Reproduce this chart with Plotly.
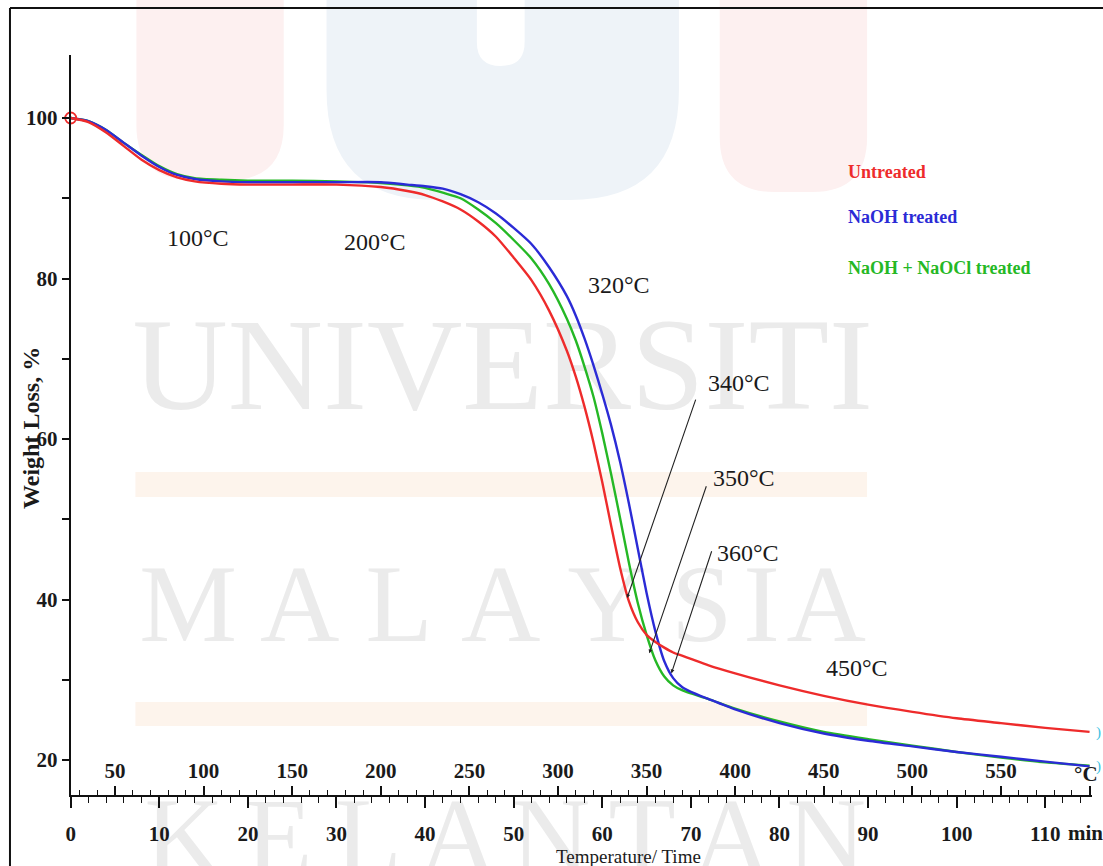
import plotly.graph_objects as go

# ---- TGA data: time (min) vs. residual weight (%) ----
time_min = [0, 2, 4, 6, 8, 10, 12, 14, 17, 20, 25, 30, 35, 38, 40, 42, 44, 46, 48, 50,
            52, 54, 56, 57, 58, 59, 60, 61, 62, 63, 64, 65, 66, 67, 68, 69, 70, 72, 75,
            80, 85, 90, 95, 100, 105, 110, 115]

untreated = [100, 99.5, 98.2, 96.5, 94.8, 93.5, 92.6, 92.1, 91.8, 91.7, 91.7, 91.7, 91.4,
             90.9, 90.4, 89.6, 88.6, 87.1, 85.2, 82.6, 79.8, 76.0, 71.0, 67.8, 64.0, 59.6,
             54.6, 49.2, 44.0, 39.8, 37.2, 35.6, 34.7, 34.0, 33.4, 33.0, 32.6, 31.8, 30.8,
             29.3, 28.0, 26.9, 26.0, 25.2, 24.6, 24.0, 23.5]

naoh = [100, 99.6, 98.5, 96.9, 95.3, 93.9, 92.9, 92.4, 92.1, 92.0, 92.0, 92.0, 92.0,
        91.7, 91.5, 91.2, 90.5, 89.5, 88.1, 86.3, 84.3, 81.4, 77.8, 75.4, 72.5, 69.2,
        65.6, 61.7, 57.2, 52.0, 46.4, 40.8, 36.0, 32.3, 30.2, 29.1, 28.5, 27.6, 26.3,
        24.6, 23.3, 22.4, 21.7, 21.0, 20.4, 19.8, 19.2]

naoh_naocl = [100, 99.6, 98.5, 96.9, 95.4, 94.0, 93.0, 92.5, 92.3, 92.2, 92.2, 92.1, 91.9,
              91.6, 91.3, 90.7, 90.0, 88.6, 86.9, 84.8, 82.5, 79.3, 75.0, 72.3, 69.0, 65.3,
              60.7, 55.6, 50.2, 44.6, 39.6, 35.6, 32.4, 30.4, 29.3, 28.7, 28.3, 27.6, 26.4,
              24.8, 23.5, 22.6, 21.8, 21.0, 20.3, 19.7, 19.3]

series_names = ["Untreated", "NaOH treated", "NaOH + NaOCl treated"]

# time axis labels and the matching temperature scale (T = 25 + 5 t)
time_ticks = [0, 10, 20, 30, 40, 50, 60, 70, 80, 90, 100, 110]
temp_ticks = [50, 100, 150, 200, 250, 300, 350, 400, 450, 500, 550]
weight_ticks = [20, 40, 60, 80, 100]

# stage temperatures marked on the curves: (label, t, w)
stage_labels = [("100°C", 14.4, 85.0), ("200°C", 34.4, 84.5), ("320°C", 61.9, 79.2),
                ("340°C", 75.4, 67.0), ("350°C", 76.0, 55.1), ("360°C", 76.5, 45.8),
                ("450°C", 88.7, 31.5)]
# leader lines: (t_from, w_from, t_to, w_to)
leaders = [(70.6, 65.1, 62.8, 40.2), (71.8, 54.3, 65.3, 33.3), (72.4, 46.2, 67.8, 30.8)]

W, H = 1103, 866
T_MAX = 115.3
Y_MIN, Y_MAX = 15.64, 107.85
X0_PX = 66
SERIF = "Liberation Serif"
RED, BLUE, GREEN = "#ee2b2b", "#2b2bd6", "#25b825"
INK = "#1a1a1a"


def px(x):
    return x / W


def py(y):
    return 1 - y / H


fig = go.Figure()

# ---- background lettering on a full-page pixel layer (drawn first, under the curves) ----
wm_color = "#ebebeb"
fig.add_trace(go.Scatter(x=[500], y=[376], mode="text", text=["UNIVERSITI"],
                         textfont=dict(family=SERIF, size=132, color=wm_color),
                         xaxis="x", yaxis="y", showlegend=False, hoverinfo="skip"))
fig.add_trace(go.Scatter(x=[184, 296, 396, 498, 605, 700, 760, 825], y=[613] * 8,
                         mode="text", text=list("MALAYSIA"),
                         textfont=dict(family=SERIF, size=110, color=wm_color),
                         xaxis="x", yaxis="y", showlegend=False, hoverinfo="skip"))
fig.add_trace(go.Scatter(x=[180, 275, 365, 455, 548, 640, 730, 825], y=[846] * 8,
                         mode="text", text=list("KELANTAN"),
                         textfont=dict(family=SERIF, size=110, color=wm_color),
                         xaxis="x", yaxis="y", showlegend=False, hoverinfo="skip"))

# ---- curves ----
for name, vals, col in [(series_names[2], naoh_naocl, GREEN),
                        (series_names[1], naoh, BLUE),
                        (series_names[0], untreated, RED)]:
    fig.add_trace(go.Scatter(x=time_min, y=vals, mode="lines", name=name,
                             xaxis="x2", yaxis="y2",
                             line=dict(color=col, width=2.4, shape="spline", smoothing=0.6),
                             showlegend=False, hoverinfo="skip"))

# start point marker
fig.add_trace(go.Scatter(x=[time_min[0]], y=[untreated[0]], mode="markers",
                         xaxis="x2", yaxis="y2",
                         marker=dict(symbol="circle-open", size=11, color=RED,
                                     line=dict(width=1.8, color=RED)),
                         cliponaxis=False, showlegend=False, hoverinfo="skip"))

# temperature scale shares the time axis
fig.add_trace(go.Scatter(x=[temp_ticks[0], temp_ticks[-1]], y=[None, None],
                         xaxis="x3", yaxis="y2", mode="lines",
                         showlegend=False, hoverinfo="skip"))

tick_font = dict(family=SERIF, size=21, color=INK, weight="bold")
hidden = dict(visible=False, showgrid=False, zeroline=False, fixedrange=True)

fig.update_layout(
    width=W, height=H,
    margin=dict(l=0, r=0, t=0, b=0),
    paper_bgcolor="white", plot_bgcolor="rgba(0,0,0,0)",
    showlegend=False,
    xaxis=dict(domain=[0, 1], range=[0, W], **hidden),
    yaxis=dict(domain=[0, 1], range=[H, 0], **hidden),
    xaxis2=dict(domain=[px(X0_PX), px(X0_PX + 8.9 * T_MAX)], range=[0, T_MAX], anchor="y2",
                tickvals=time_ticks, ticktext=[str(v) for v in time_ticks],
                showline=True, linecolor="#111", linewidth=2,
                ticks="outside", ticklen=11, tickwidth=1.5, tickcolor="#111",
                minor=dict(dtick=2, tick0=0, ticks="outside", ticklen=6,
                           tickwidth=1.3, tickcolor="#111", showgrid=False),
                showgrid=False, zeroline=False, tickfont=tick_font,
                ticklabelstandoff=8),
    xaxis3=dict(overlaying="x2", anchor="free", position=py(795), side="top",
                range=[25, 25 + 5 * T_MAX],
                tickvals=temp_ticks + [600], ticktext=[str(v) for v in temp_ticks] + [""],
                showline=False, ticks="outside", ticklen=9, tickwidth=1.5,
                tickcolor="#111",
                minor=dict(dtick=10, tick0=0, ticks="outside", ticklen=5,
                           tickwidth=1.3, tickcolor="#111", showgrid=False),
                showgrid=False, zeroline=False, tickfont=tick_font),
    yaxis2=dict(domain=[py(795), py(55)], range=[Y_MIN, Y_MAX], anchor="x2",
                tickvals=weight_ticks, ticktext=[str(v) for v in weight_ticks],
                showline=True, linecolor="#111", linewidth=2,
                ticks="outside", ticklen=7, tickwidth=1.5, tickcolor="#111",
                minor=dict(dtick=10, tick0=0, ticks="outside", ticklen=7,
                           tickwidth=1.5, tickcolor="#111", showgrid=False),
                showgrid=False, zeroline=False, tickfont=tick_font),
)

shapes = []
# pale emblem blocks behind the chart
pink, blue_bg, band = "#fdf0f0", "#eef3f8", "#fdf4ec"


def rounded_block(x0, x1, y_bottom, r):
    return (f"M {px(x0)},{py(0)} L {px(x0)},{py(y_bottom - r)} "
            f"Q {px(x0)},{py(y_bottom)} {px(x0 + r)},{py(y_bottom)} "
            f"L {px(x1 - r)},{py(y_bottom)} "
            f"Q {px(x1)},{py(y_bottom)} {px(x1)},{py(y_bottom - r)} "
            f"L {px(x1)},{py(0)} Z")


for x0, x1, yb, r, col in [(132, 280, 180, 55, pink), (718, 866, 192, 55, pink),
                           (323, 677, 200, 110, blue_bg), (474, 522, 66, 24, "white")]:
    shapes.append(dict(type="path", path=rounded_block(x0, x1, yb, r), xref="paper",
                       yref="paper", fillcolor=col, line=dict(width=0), layer="below"))
for y0, y1 in [(472, 497), (702, 726)]:
    shapes.append(dict(type="rect", xref="paper", yref="paper", x0=px(131), x1=px(866),
                       y0=py(y1), y1=py(y0), fillcolor=band, line=dict(width=0),
                       layer="below"))
# outer frame (top and left edges)
shapes.append(dict(type="line", xref="paper", yref="paper", x0=px(5), x1=1,
                   y0=py(8), y1=py(8), line=dict(color="#111", width=2)))
shapes.append(dict(type="line", xref="paper", yref="paper", x0=px(5), x1=px(5),
                   y0=py(8), y1=0, line=dict(color="#111", width=2)))
fig.update_layout(shapes=shapes)

ann = []
for label, t, w in stage_labels:
    ann.append(dict(x=t, y=w, xref="x2", yref="y2", text=label, showarrow=False,
                    xanchor="center", yanchor="middle",
                    font=dict(family=SERIF, size=24, color=INK)))
for t0, w0, t1, w1 in leaders:
    ann.append(dict(x=t1, y=w1, ax=t0, ay=w0, xref="x2", yref="y2", axref="x2", ayref="y2",
                    text="", showarrow=True, arrowhead=2, arrowsize=0.7, arrowwidth=1.1,
                    arrowcolor="#222"))
# series key
for name, col, y in [(series_names[0], RED, 172), (series_names[1], BLUE, 217),
                     (series_names[2], GREEN, 268)]:
    ann.append(dict(x=px(845), y=py(y), xref="paper", yref="paper", text=name,
                    showarrow=False, xanchor="left", yanchor="middle",
                    font=dict(family=SERIF, size=18, color=col, weight="bold")))
# axis titles and units
ann.append(dict(x=px(26), y=py(428), xref="paper", yref="paper", text="Weight Loss, %",
                textangle=-90, showarrow=False, xanchor="center", yanchor="middle",
                font=dict(family=SERIF, size=24, color=INK, weight="bold")))
ann.append(dict(x=px(626), y=py(856), xref="paper", yref="paper", text="Temperature/ Time",
                showarrow=False, xanchor="center", yanchor="middle",
                font=dict(family=SERIF, size=19, color=INK)))
ann.append(dict(x=px(1066), y=py(833), xref="paper", yref="paper", text="min",
                showarrow=False, xanchor="left", yanchor="middle",
                font=dict(family=SERIF, size=21, color=INK, weight="bold")))
ann.append(dict(x=px(1086), y=py(774), xref="paper", yref="paper", text="°C",
                showarrow=False, xanchor="center", yanchor="middle",
                font=dict(family=SERIF, size=21, color=INK, weight="bold")))
for y in (732, 766):
    ann.append(dict(x=px(1098), y=py(y), xref="paper", yref="paper", text=")",
                    showarrow=False, xanchor="center", yanchor="middle",
                    font=dict(family=SERIF, size=15, color="#3cc3e3")))
fig.update_layout(annotations=ann)

fig.write_html("out.html")
